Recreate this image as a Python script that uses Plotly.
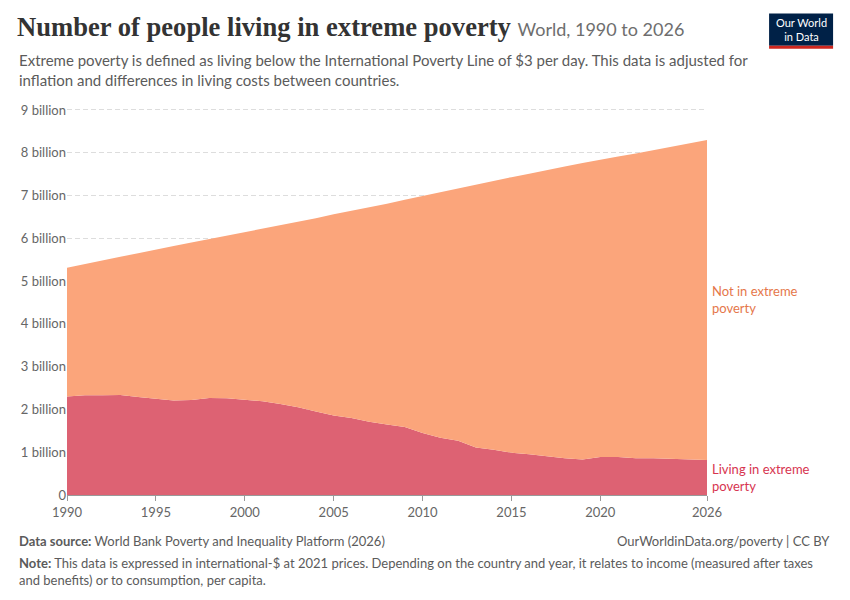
import plotly.graph_objects as go

# 年份与数据（单位：十亿人）
years = list(range(1990, 2027))
total_population = [5.31, 5.40, 5.48, 5.57, 5.65, 5.74, 5.82, 5.90, 5.98, 6.06,
                    6.15, 6.23, 6.31, 6.39, 6.47, 6.56, 6.64, 6.72, 6.81, 6.90,
                    6.99, 7.07, 7.16, 7.25, 7.34, 7.43, 7.51, 7.60, 7.68, 7.76,
                    7.84, 7.91, 7.98, 8.06, 8.14, 8.22, 8.30]
extreme_poverty = [2.30, 2.33, 2.33, 2.34, 2.29, 2.25, 2.21, 2.22, 2.27, 2.26,
                   2.22, 2.19, 2.13, 2.05, 1.95, 1.86, 1.80, 1.71, 1.65, 1.59,
                   1.45, 1.34, 1.27, 1.11, 1.06, 0.99, 0.95, 0.90, 0.86, 0.83,
                   0.89, 0.89, 0.86, 0.86, 0.85, 0.84, 0.82]
not_in_poverty = [t - p for t, p in zip(total_population, extreme_poverty)]

x_ticks = [1990, 1995, 2000, 2005, 2010, 2015, 2020, 2026]
y_ticks = [0, 1, 2, 3, 4, 5, 6, 7, 8, 9]
y_tick_text = ["0"] + [f"{v} billion" for v in y_ticks[1:]]

RED = "#dd6273"
ORANGE = "#fba57b"
FONT = "Lato"
GREY = "#5b5b5b"

fig = go.Figure()
fig.add_trace(go.Scatter(x=years, y=extreme_poverty, name="Living in extreme poverty",
                         stackgroup="one", mode="lines", line=dict(width=0, color=RED),
                         fillcolor=RED))
fig.add_trace(go.Scatter(x=years, y=not_in_poverty, name="Not in extreme poverty",
                         stackgroup="one", mode="lines", line=dict(width=0, color=ORANGE),
                         fillcolor=ORANGE))

# 右侧标签
fig.add_annotation(x=years[-1], y=extreme_poverty[-1] + not_in_poverty[-1] / 2,
                   text="Not in extreme<br>poverty", showarrow=False, xanchor="left",
                   xshift=3, align="left", font=dict(family=FONT, size=13, color="#e5774a"))
fig.add_annotation(x=years[-1], y=extreme_poverty[-1] / 2,
                   text="Living in extreme<br>poverty", showarrow=False, xanchor="left",
                   xshift=3, align="left", font=dict(family=FONT, size=13, color="#d73550"))

# 副标题
fig.add_annotation(xref="paper", yref="paper", x=-0.078, y=1.152, xanchor="left", yanchor="top",
                   text="Extreme poverty is defined as living below the International Poverty Line of $3 per day. This data is adjusted for<br>inflation and differences in living costs between countries.",
                   showarrow=False, align="left", font=dict(family=FONT, size=15, color=GREY))

# 页脚
fig.add_annotation(xref="paper", yref="paper", x=-0.078, y=-0.094, xanchor="left", yanchor="top",
                   text="<b>Data source:</b> World Bank Poverty and Inequality Platform (2026)",
                   showarrow=False, align="left", font=dict(family=FONT, size=13, color=GREY))
fig.add_annotation(xref="paper", yref="paper", x=1.196, y=-0.094, xanchor="right", yanchor="top",
                   text="OurWorldinData.org/poverty | CC BY",
                   showarrow=False, align="right", font=dict(family=FONT, size=13, color=GREY))
fig.add_annotation(xref="paper", yref="paper", x=-0.078, y=-0.151, xanchor="left", yanchor="top",
                   text="<b>Note:</b> This data is expressed in international-$ at 2021 prices. Depending on the country and year, it relates to income (measured after taxes<br>and benefits) or to consumption, per capita.",
                   showarrow=False, align="left", font=dict(family=FONT, size=13, color=GREY))

# 标志
fig.add_shape(type="rect", xref="paper", yref="paper", x0=1.097, x1=1.197, y0=1.161, y1=1.244,
              fillcolor="#002147", line_width=0, layer="below")
fig.add_shape(type="rect", xref="paper", yref="paper", x0=1.097, x1=1.197, y0=1.153, y1=1.161,
              fillcolor="#ce261e", line_width=0, layer="below")
fig.add_annotation(xref="paper", yref="paper", x=1.147, y=1.203, xanchor="center", yanchor="middle",
                   text="Our World<br>in Data", showarrow=False, align="center",
                   font=dict(family=FONT, size=11, color="#ffffff"))

fig.update_layout(
    width=842, height=592,
    margin=dict(l=59, r=143, t=100, b=105),
    paper_bgcolor="white", plot_bgcolor="white",
    showlegend=False,
    font=dict(family=FONT, size=13, color="#666"),
    title=dict(
        text="<b>Number of people living in extreme poverty</b> <span style='font-family:Lato;font-size:18px;font-weight:normal;color:#6e6e6e'>World, 1990 to 2026</span>",
        xref="container", yref="container", x=0.0107, y=0.984, xanchor="left", yanchor="top",
        font=dict(family="Liberation Serif", size=26.6, color="#333333")),
)
fig.update_xaxes(range=[1990, 2026], tickvals=x_ticks, showgrid=False, zeroline=False,
                 showline=True, linecolor="#999", ticks="outside", ticklen=5, tickcolor="#999",
                 tickfont=dict(family=FONT, size=13, color="#666"))
fig.update_yaxes(range=[0, 9.046], tickvals=y_ticks, ticktext=y_tick_text, showgrid=True,
                 gridcolor="#dddddd", griddash="5px,3px", zeroline=False, showline=False,
                 tickfont=dict(family=FONT, size=13, color="#666"))

fig.write_html("out.html")
